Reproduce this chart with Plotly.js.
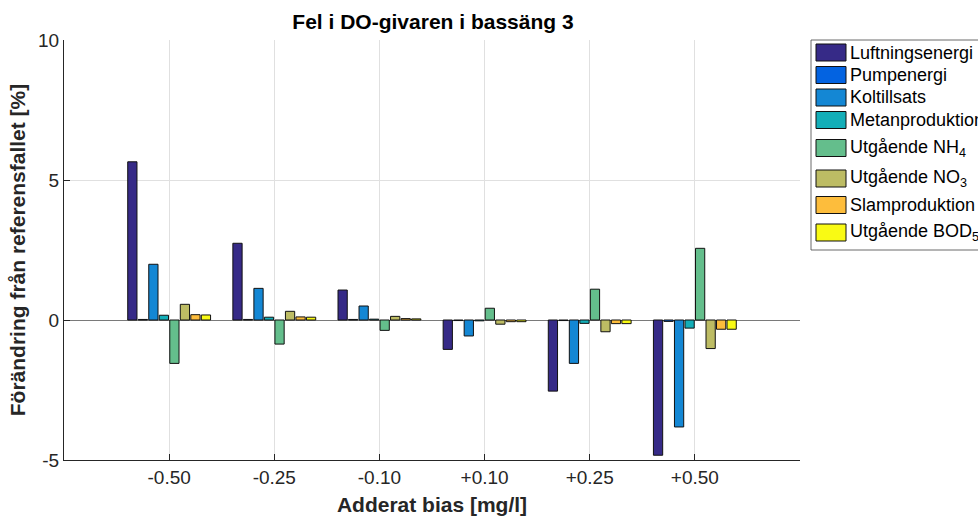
<!DOCTYPE html>
<html>
<head>
<meta charset="utf-8">
<script src="https://cdn.plot.ly/plotly-3.0.1.min.js"></script>
<style>html,body{margin:0;padding:0;background:#fff;}#chart{width:978px;height:517px;}</style>
</head>
<body>
<div id="chart"></div>
<script>
// ---- data ----
const categories = ['-0.50', '-0.25', '-0.10', '+0.10', '+0.25', '+0.50'];
const seriesNames = ['Luftningsenergi', 'Pumpenergi', 'Koltillsats', 'Metanproduktion',
  'Utgående NH<sub>4</sub>', 'Utgående NO<sub>3</sub>', 'Slamproduktion', 'Utgående BOD<sub>5</sub>'];
const luftningsenergi = [5.65, 2.74, 1.07, -1.05, -2.54, -4.83];
const pumpenergi      = [0.02, 0.02, 0.02, -0.02, -0.02, -0.05];
const koltillsats     = [1.99, 1.13, 0.50, -0.57, -1.55, -3.82];
const metanproduktion = [0.17, 0.10, 0.03, -0.03, -0.12, -0.29];
const utgNH4          = [-1.55, -0.86, -0.37, 0.42, 1.10, 2.56];
const utgNO3          = [0.56, 0.31, 0.13, -0.15, -0.42, -1.02];
const slamproduktion  = [0.19, 0.11, 0.05, -0.06, -0.13, -0.33];
const utgBOD5         = [0.18, 0.10, 0.04, -0.06, -0.13, -0.33];
const seriesValues = [luftningsenergi, pumpenergi, koltillsats, metanproduktion,
  utgNH4, utgNO3, slamproduktion, utgBOD5];

// ---- styles ----
const colors = ['#362a87', '#0363e1', '#1487d4', '#13aeb8', '#64be8c', '#bdbc64', '#fdbd3c', '#f9fa14'];
const FONT = 'Liberation Sans, Arial, Helvetica, sans-serif';
const AX = '#262626';

// plot area geometry (pixels)
const W = 978, H = 517, L = 64, R = 800, T = 40, B = 460;
const px = x => (x - L) / (R - L);
const py = y => (B - y) / (B - T);

const traces = seriesValues.map((vals, i) => ({
  type: 'bar',
  name: seriesNames[i],
  x: categories,
  y: vals,
  marker: {color: colors[i], line: {color: '#111', width: 1}},
  showlegend: false,
  hoverinfo: 'x+y+name'
}));

// custom legend (MATLAB-style wide swatches)
const legendRowY = [52.5, 75, 97.5, 120, 148, 178.5, 205, 232.5];
const shapes = [{
  type: 'rect', xref: 'paper', yref: 'paper',
  x0: px(811), x1: px(990), y0: py(250), y1: py(40),
  line: {color: '#444', width: 0.8}, fillcolor: 'rgba(255,255,255,1)', layer: 'above'
}];
const annotations = [];
seriesNames.forEach((name, i) => {
  const cy = legendRowY[i];
  shapes.push({
    type: 'rect', xref: 'paper', yref: 'paper',
    x0: px(816), x1: px(846), y0: py(cy + 8.5), y1: py(cy - 8.5),
    fillcolor: colors[i], line: {color: '#111', width: 1}, layer: 'above'
  });
  annotations.push({
    xref: 'paper', yref: 'paper', x: px(848), y: py(cy),
    xanchor: 'left', yanchor: 'middle', showarrow: false,
    text: name, font: {family: FONT, size: 18, color: '#000'}
  });
});

const layout = {
  width: W, height: H,
  margin: {l: L, r: W - R, t: T, b: H - B, pad: 0},
  paper_bgcolor: '#fff', plot_bgcolor: '#fff',
  font: {family: FONT, color: AX},
  barmode: 'group', bargap: 0.2, bargroupgap: 0.12,
  title: {
    text: '<b>Fel i DO-givaren i bassäng 3</b>',
    font: {family: FONT, size: 21, color: '#000'},
    x: px(433), xref: 'paper', xanchor: 'center',
    y: 1 - 22 / H, yref: 'container', yanchor: 'middle'
  },
  xaxis: {
    type: 'category', range: [-1, 6],
    showline: true, linecolor: AX, linewidth: 1, mirror: false,
    ticks: 'inside', ticklen: 6, tickcolor: AX, tickwidth: 1,
    showgrid: true, gridcolor: '#e0e0e0', gridwidth: 1,
    tickfont: {family: FONT, size: 19, color: AX},
    title: {text: '<b>Adderat bias [mg/l]</b>', font: {family: FONT, size: 21, color: AX}, standoff: 10},
    fixedrange: true
  },
  yaxis: {
    range: [-5, 10], tickvals: [-5, 0, 5, 10], ticktext: ['-5', '0', '5', '10'],
    showline: true, linecolor: AX, linewidth: 1, mirror: false,
    ticks: 'inside', ticklen: 6, tickcolor: AX, tickwidth: 1,
    showgrid: true, gridcolor: '#e0e0e0', gridwidth: 1,
    zeroline: true, zerolinecolor: '#7a7a7a', zerolinewidth: 1,
    tickfont: {family: FONT, size: 19, color: AX},
    title: {text: '<b>Förändring från referensfallet [%]</b>', font: {family: FONT, size: 21, color: AX}, standoff: 6},
    fixedrange: true
  },
  shapes: shapes,
  annotations: annotations
};

Plotly.newPlot('chart', traces, layout, {displayModeBar: false, staticPlot: true});
</script>
</body>
</html>
